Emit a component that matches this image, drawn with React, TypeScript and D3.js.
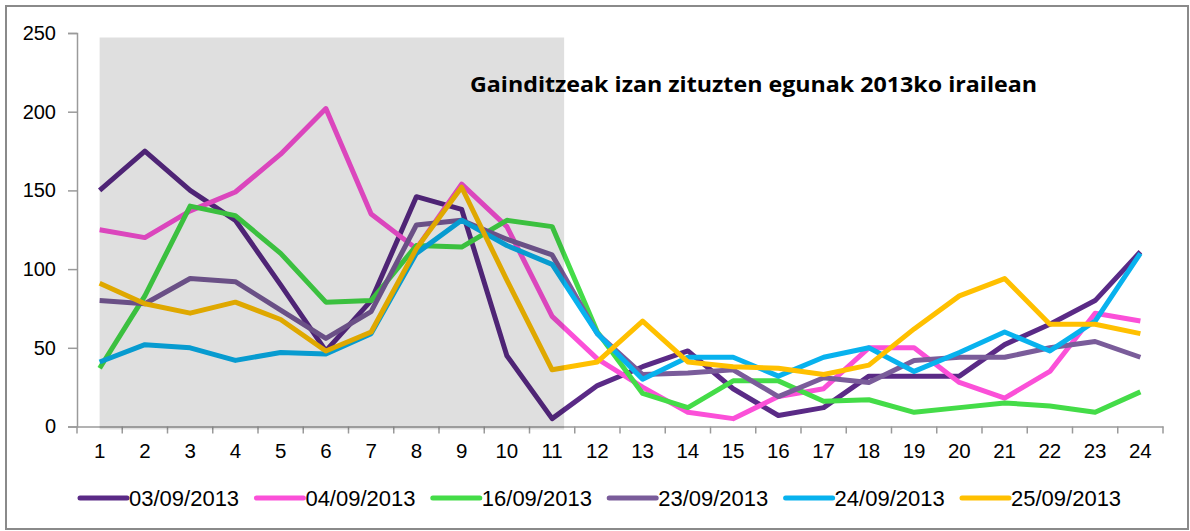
import React, { useEffect, useRef } from 'react';
import * as d3 from 'd3';

const hours = d3.range(1, 25).map(String);

const s0309 = [150, 175, 150, 131, 90, 48, 80, 146, 138, 45, 5, 26, 38, 48, 24, 7, 12, 32, 32, 32, 52, 65, 80, 111];
const s0409 = [125, 120, 137, 149, 173, 202, 135, 113, 154, 127, 70, 43, 25, 9, 5, 19, 24, 50, 50, 28, 18, 35, 72, 67];
const s1609 = [37, 83, 140, 134, 110, 79, 80, 115, 114, 131, 127, 60, 21, 12, 29, 29, 16, 17, 9, 12, 15, 13, 9, 22];
const s2309 = [80, 78, 94, 92, 74, 56, 73, 128, 131, 119, 109, 59, 33, 34, 36, 19, 31, 28, 42, 44, 44, 50, 54, 44];
const s2409 = [41, 52, 50, 42, 47, 46, 59, 110, 131, 115, 103, 59, 30, 44, 44, 32, 44, 50, 35, 47, 60, 48, 67, 110];
const s2509 = [91, 78, 72, 79, 68, 48, 60, 113, 152, 93, 36, 41, 67, 41, 38, 37, 33, 39, 62, 83, 94, 65, 65, 59];

const seriesNames = ['03/09/2013', '04/09/2013', '16/09/2013', '23/09/2013', '24/09/2013', '25/09/2013'];
const seriesValues = [s0309, s0409, s1609, s2309, s2409, s2509];
const seriesColors = ['#5a2a86', '#fb50d8', '#44dc48', '#7a5c9a', '#08b2ee', '#ffc000'];

const yTicks = [0, 50, 100, 150, 200, 250];
const shadedFrom = '1';
const shadedTo = '11';
const title = 'Gainditzeak izan zituzten egunak 2013ko irailean';

const App = () => {
  const svgRef = useRef<SVGSVGElement>(null);

  useEffect(() => {
    const W = 1190, H = 531;
    const margin = { top: 33, right: 27, bottom: 104, left: 77 };

    const svgEl = d3.select(svgRef.current);
    svgEl.selectAll('*').remove();
    svgEl.attr('width', W).attr('height', H);

    // cadre
    svgEl.append('rect')
      .attr('x', 6).attr('y', 6).attr('width', 1182).attr('height', 523)
      .attr('fill', '#fff').attr('stroke', '#8a8a8a').attr('stroke-width', 2);

    const x = d3.scaleBand().domain(hours).range([margin.left, W - margin.right]);
    const y = d3.scaleLinear().domain([0, 250]).range([H - margin.bottom - 0.5, margin.top]);

    const font = '"Liberation Sans", Arial, sans-serif';

    // axe Y
    const yAxis = svgEl.append('g')
      .attr('transform', `translate(${margin.left},0)`)
      .call(d3.axisLeft(y).tickValues(yTicks).tickSize(9).tickPadding(12));
    yAxis.select('.domain').attr('stroke', '#9a9a9a').attr('stroke-width', 1.5);
    yAxis.selectAll('.tick line').attr('stroke', '#9a9a9a').attr('stroke-width', 1.5);
    yAxis.selectAll('text').attr('fill', '#000').style('font-family', font).style('font-size', '20px');

    // axe X
    const xAxis = svgEl.append('g')
      .attr('transform', `translate(0,${y(0)})`)
      .call(d3.axisBottom(x).tickSize(0).tickPadding(17));
    xAxis.select('.domain').attr('stroke', '#9a9a9a').attr('stroke-width', 1.5);
    xAxis.selectAll('text').attr('fill', '#000').style('font-family', font).style('font-size', '20.5px');
    xAxis.selectAll('line.bound')
      .data(d3.range(hours.length + 1))
      .enter().append('line')
      .attr('class', 'bound')
      .attr('x1', i => margin.left + i * x.step())
      .attr('x2', i => margin.left + i * x.step())
      .attr('y1', 0).attr('y2', 7)
      .attr('stroke', '#9a9a9a').attr('stroke-width', 1.5);

    // lignes
    const line = d3.line<number>()
      .x((_, i) => x(hours[i])! + x.bandwidth() / 2)
      .y(d => y(d));

    svgEl.append('g').selectAll('path')
      .data(seriesValues)
      .enter().append('path')
      .attr('d', d => line(d))
      .attr('fill', 'none')
      .attr('stroke', (_, i) => seriesColors[i])
      .attr('stroke-width', 5)
      .attr('stroke-linejoin', 'round');

    // zone grisée
    const xa = x(shadedFrom)! + x.bandwidth() / 2;
    const xb = x(shadedTo)! + x.bandwidth() / 2 + 12;
    svgEl.append('rect')
      .attr('x', xa).attr('y', y(250) + 4.5)
      .attr('width', xb - xa).attr('height', y(0) + 3 - y(250) - 4.5)
      .attr('fill', '#000').attr('fill-opacity', 0.125);

    // titre
    svgEl.append('text')
      .attr('x', 470).attr('y', 92)
      .attr('textLength', 567).attr('lengthAdjust', 'spacingAndGlyphs')
      .style('font-family', '"Open Sans", "Noto Sans", sans-serif')
      .style('font-weight', 700).style('font-size', '22px')
      .attr('fill', '#000')
      .text(title);

    // légende
    const legend = svgEl.append('g').attr('transform', 'translate(78,498)');
    seriesNames.forEach((name, i) => {
      const row = legend.append('g').attr('transform', `translate(${i * 176.4},0)`);
      row.append('line')
        .attr('x1', 2).attr('x2', 49).attr('y1', 0).attr('y2', 0)
        .attr('stroke', seriesColors[i]).attr('stroke-width', 5).attr('stroke-linecap', 'round');
      row.append('text')
        .attr('x', 51).attr('y', 8)
        .style('font-family', font).style('font-size', '22px')
        .attr('fill', '#000')
        .text(name);
    });
  }, []);

  return (
    <div style={{ position: 'absolute', left: 0, top: 0 }}>
      <svg ref={svgRef} style={{ display: 'block' }}></svg>
    </div>
  );
};

export default App;
